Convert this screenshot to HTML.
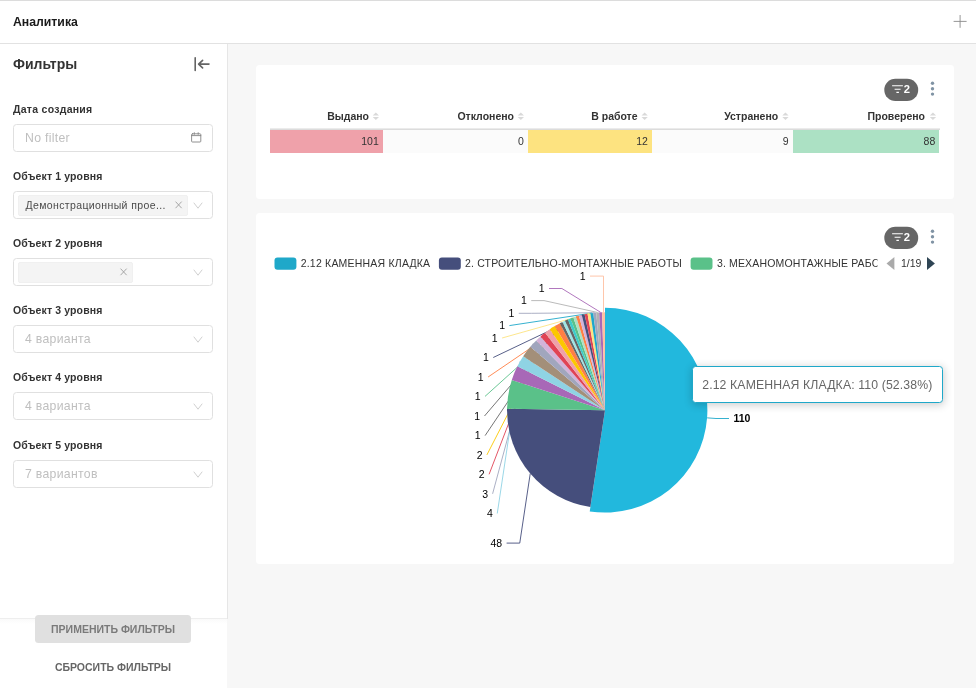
<!DOCTYPE html>
<html>
<head>
<meta charset="utf-8">
<title>Аналитика</title>
<style>
*{box-sizing:border-box;margin:0;padding:0}
html,body{width:976px;height:688px;overflow:hidden;background:#f7f7f7}
body{font-family:"Liberation Sans",sans-serif;color:#333;position:relative;font-size:12.25px}
.abs{position:absolute}
#topline{left:0;top:0;width:976px;height:1px;background:#dcdcdc}
#header{left:0;top:1px;width:976px;height:43px;background:#fff;border-bottom:1px solid #e2e2e2}
#title{left:13px;top:14px;font-weight:bold;font-size:12.25px;line-height:16px;color:#1a1a1a;white-space:nowrap}
#sidebar{left:0;top:44px;width:227.8px;height:574.6px;background:#fff;border-right:1px solid #e6e6e6}
#sfoot{left:0;top:618px;width:226.6px;height:70px;background:linear-gradient(#fafafa,#fff 5px);border-top:1px solid #eeeeee}
#ftitle{left:13px;top:53.5px;font-weight:bold;font-size:14px;line-height:20px;color:#333;white-space:nowrap}
.flabel{left:13px;font-weight:bold;font-size:10.5px;line-height:14px;color:#333;white-space:nowrap;letter-spacing:0.13px}
.finput{left:13px;width:200px;height:28px;border:1px solid #e0e0e0;border-radius:3.5px;background:#fff}
.ph{left:11px;top:0;line-height:26px;font-size:12.25px;color:#bfbfbf;white-space:nowrap;letter-spacing:0.3px}
.tag{left:3.5px;top:2.5px;height:21px;background:#f4f4f4;border:1px solid #f0f0f0;border-radius:2px}
.tagtxt{left:7px;top:0;line-height:18.2px;font-size:10.5px;color:#4a4a4a;white-space:nowrap;letter-spacing:0.38px}
.card{background:#fff;border-radius:3.5px}
.th{font-weight:bold;font-size:10.5px;line-height:14px;color:#333;white-space:nowrap;text-align:right}
.td{font-size:10.5px;line-height:23.5px;height:23.7px;color:#333;text-align:right;padding-right:4.2px;top:129.8px}
.btn{font-weight:bold;font-size:10.5px;white-space:nowrap;text-align:center}
svg{position:absolute;left:0;top:0;overflow:visible}
</style>
</head>
<body>
<div class="abs" id="header"></div>
<div class="abs" id="topline"></div>
<div class="abs" id="title">Аналитика</div>
<div class="abs" id="sidebar"></div>
<div class="abs" id="ftitle">Фильтры</div>

<!-- filter groups -->
<div class="abs flabel" style="top:102px;letter-spacing:0.27px">Дата создания</div>
<div class="abs finput" style="top:124px"><div class="abs ph">No filter</div></div>

<div class="abs flabel" style="top:169px">Объект 1 уровня</div>
<div class="abs finput" style="top:191px"><div class="abs tag" style="width:170px"><div class="abs tagtxt">Демонстрационный прое...</div></div></div>

<div class="abs flabel" style="top:236px">Объект 2 уровня</div>
<div class="abs finput" style="top:258px"><div class="abs tag" style="width:115px"></div></div>

<div class="abs flabel" style="top:303px">Объект 3 уровня</div>
<div class="abs finput" style="top:325px"><div class="abs ph">4 варианта</div></div>

<div class="abs flabel" style="top:370px">Объект 4 уровня</div>
<div class="abs finput" style="top:392px"><div class="abs ph">4 варианта</div></div>

<div class="abs flabel" style="top:438px">Объект 5 уровня</div>
<div class="abs finput" style="top:460px"><div class="abs ph">7 вариантов</div></div>

<!-- sidebar footer -->
<div class="abs" id="sfoot"></div>
<div class="abs btn" style="left:35px;top:615px;width:156px;height:28px;line-height:28px;background:#e0e0e0;border-radius:3.5px;color:#7a7a7a">ПРИМЕНИТЬ ФИЛЬТРЫ</div>
<div class="abs btn" style="left:35px;top:653px;width:156px;height:28px;line-height:28px;color:#666">СБРОСИТЬ ФИЛЬТРЫ</div>

<!-- card 1 : table -->
<div class="abs card" style="left:256px;top:65px;width:698px;height:133.6px"></div>
<div class="abs" style="left:270px;top:128px;width:669.5px;height:1px;background:#ebebeb"></div><div class="abs" style="left:270px;top:129px;width:669.5px;height:1px;background:#dcdcdc"></div>
<div class="abs td" style="left:270px;width:113px;background:#efa1aa">101</div>
<div class="abs td" style="left:383px;width:145.1px;background:#fbfbfb">0</div>
<div class="abs td" style="left:528.1px;width:124px;background:#fde380">12</div>
<div class="abs td" style="left:652.1px;width:140.6px;background:#fbfbfb">9</div>
<div class="abs td" style="left:792.7px;width:146.8px;background:#ace1c4">88</div>
<div class="abs th" style="left:270px;width:99px;top:109px">Выдано</div>
<div class="abs th" style="left:383px;width:131px;top:109px">Отклонено</div>
<div class="abs th" style="left:528px;width:109.6px;top:109px">В работе</div>
<div class="abs th" style="left:651px;width:127.2px;top:109px">Устранено</div>
<div class="abs th" style="left:793px;width:132px;top:109px">Проверено</div>

<!-- card 2 : pie -->
<div class="abs card" style="left:256px;top:212.7px;width:698px;height:351.7px"></div>

<svg id="gfx" width="976" height="688" viewBox="0 0 976 688">
<g fill="none" stroke-width="0.9" stroke-linejoin="round">
<polyline stroke="#FEC0A1" points="590.00,276.10 603.50,276.10 603.53,312.21"/>
<polyline stroke="#A868B7" points="549.00,288.50 561.90,288.50 600.60,312.30"/>
<polyline stroke="#B2B2B2" points="531.25,300.60 544.00,300.60 597.68,312.47"/>
<polyline stroke="#A1A6BD" points="518.75,313.30 531.25,313.30 594.76,312.74"/>
<polyline stroke="#1FA8C9" points="509.40,325.60 591.85,313.09"/>
<polyline stroke="#FDE380" points="502.10,338.00 588.95,313.52"/>
<polyline stroke="#454E7C" points="493.25,357.50 583.19,314.66"/>
<polyline stroke="#FF7F44" points="488.10,377.00 577.52,316.13"/>
<polyline stroke="#5AC189" points="485.00,396.40 571.94,317.94"/>
<polyline stroke="#666666" points="484.50,416.00 566.48,320.09"/>
<polyline stroke="#666666" points="485.10,435.60 561.16,322.55"/>
<polyline stroke="#FCC700" points="486.90,454.90 552.24,327.61"/>
<polyline stroke="#E04355" points="489.10,474.30 542.76,334.50"/>
<polyline stroke="#A1A6BD" points="492.60,493.80 533.16,343.54"/>
<polyline stroke="#8FD3E4" points="497.25,513.50 520.13,361.20"/>
<polyline stroke="#454E7C" points="506.60,543.10 519.75,543.10 530.24,473.57"/>
</g>
<g stroke="none">
<path fill="#22B8DD" d="M605.00,410.20L605.00,307.80A102.40,102.40 0 1 1 589.74,511.46Z"/>
<path fill="#454E7C" d="M605.00,410.20L590.39,507.11A98.00,98.00 0 0 1 507.01,408.73Z"/>
<path fill="#5AC189" d="M605.00,410.20L507.01,408.73A98.00,98.00 0 0 1 511.80,379.92Z"/>
<path fill="#A868B7" d="M605.00,410.20L511.80,379.92A98.00,98.00 0 0 1 517.35,366.36Z"/>
<path fill="#8FD3E4" d="M605.00,410.20L517.35,366.36A98.00,98.00 0 0 1 523.21,356.21Z"/>
<path fill="#A38F79" d="M605.00,410.20L523.21,356.21A98.00,98.00 0 0 1 530.24,346.83Z"/>
<path fill="#A1A6BD" d="M605.00,410.20L530.24,346.83A98.00,98.00 0 0 1 536.22,340.39Z"/>
<path fill="#D3B3DA" d="M605.00,410.20L536.22,340.39A98.00,98.00 0 0 1 540.52,336.40Z"/>
<path fill="#E04355" d="M605.00,410.20L540.52,336.40A98.00,98.00 0 0 1 545.05,332.68Z"/>
<path fill="#EFA1AA" d="M605.00,410.20L545.05,332.68A98.00,98.00 0 0 1 549.79,329.23Z"/>
<path fill="#FCC700" d="M605.00,410.20L549.79,329.23A98.00,98.00 0 0 1 554.74,326.07Z"/>
<path fill="#FF7F44" d="M605.00,410.20L554.74,326.07A98.00,98.00 0 0 1 559.86,323.22Z"/>
<path fill="#666666" d="M605.00,410.20L559.86,323.22A98.00,98.00 0 0 1 562.48,321.91Z"/>
<path fill="#9EE5E5" d="M605.00,410.20L562.48,321.91A98.00,98.00 0 0 1 565.14,320.67Z"/>
<path fill="#666666" d="M605.00,410.20L565.14,320.67A98.00,98.00 0 0 1 567.84,319.52Z"/>
<path fill="#3CCCCB" d="M605.00,410.20L567.84,319.52A98.00,98.00 0 0 1 570.57,318.45Z"/>
<path fill="#5AC189" d="M605.00,410.20L570.57,318.45A98.00,98.00 0 0 1 573.33,317.46Z"/>
<path fill="#ACE1C4" d="M605.00,410.20L573.33,317.46A98.00,98.00 0 0 1 576.11,316.55Z"/>
<path fill="#FF7F44" d="M605.00,410.20L576.11,316.55A98.00,98.00 0 0 1 578.93,315.73Z"/>
<path fill="#D3B3DA" d="M605.00,410.20L578.93,315.73A98.00,98.00 0 0 1 581.77,314.99Z"/>
<path fill="#454E7C" d="M605.00,410.20L581.77,314.99A98.00,98.00 0 0 1 584.62,314.34Z"/>
<path fill="#E04355" d="M605.00,410.20L584.62,314.34A98.00,98.00 0 0 1 587.50,313.77Z"/>
<path fill="#FDE380" d="M605.00,410.20L587.50,313.77A98.00,98.00 0 0 1 590.39,313.29Z"/>
<path fill="#1FA8C9" d="M605.00,410.20L590.39,313.29A98.00,98.00 0 0 1 593.30,312.90Z"/>
<path fill="#A1A6BD" d="M605.00,410.20L593.30,312.90A98.00,98.00 0 0 1 596.22,312.59Z"/>
<path fill="#B2B2B2" d="M605.00,410.20L596.22,312.59A98.00,98.00 0 0 1 599.14,312.38Z"/>
<path fill="#A868B7" d="M605.00,410.20L599.14,312.38A98.00,98.00 0 0 1 602.07,312.24Z"/>
<path fill="#FEC0A1" d="M605.00,410.20L602.07,312.24A98.00,98.00 0 0 1 605.00,312.20Z"/>
</g>
<polyline fill="none" stroke="#1FA8C9" stroke-width="0.9" points="707.11,417.85 716,418.5 729,418.5"/>
<g font-family="'Liberation Sans',sans-serif" font-size="10.5" fill="#000">
<text x="585.60" y="279.80" text-anchor="end">1</text>
<text x="544.60" y="292.20" text-anchor="end">1</text>
<text x="526.85" y="304.30" text-anchor="end">1</text>
<text x="514.35" y="317.00" text-anchor="end">1</text>
<text x="505.00" y="329.30" text-anchor="end">1</text>
<text x="497.70" y="341.70" text-anchor="end">1</text>
<text x="488.85" y="361.20" text-anchor="end">1</text>
<text x="483.70" y="380.70" text-anchor="end">1</text>
<text x="480.60" y="400.10" text-anchor="end">1</text>
<text x="480.10" y="419.70" text-anchor="end">1</text>
<text x="480.70" y="439.30" text-anchor="end">1</text>
<text x="482.50" y="458.60" text-anchor="end">2</text>
<text x="484.70" y="478.00" text-anchor="end">2</text>
<text x="488.20" y="497.50" text-anchor="end">3</text>
<text x="492.85" y="517.20" text-anchor="end">4</text>
<text x="502.20" y="546.80" text-anchor="end">48</text>
<text x="733.4" y="422.2" font-weight="bold">110</text>
</g>
<!-- legend -->
<defs><clipPath id="lgclip"><rect x="270" y="250" width="607.5" height="26"/></clipPath></defs>
<g clip-path="url(#lgclip)" font-family="'Liberation Sans',sans-serif" font-size="10.5" fill="#333">
<rect x="274.5" y="257.4" width="21.9" height="12.25" rx="3" fill="#1FA8C9"/>
<text x="300.7" y="267.3" textLength="129.4" lengthAdjust="spacing">2.12 КАМЕННАЯ КЛАДКА</text>
<rect x="438.9" y="257.4" width="21.9" height="12.25" rx="3" fill="#454E7C"/>
<text x="465.1" y="267.3" textLength="216.7" lengthAdjust="spacing">2. СТРОИТЕЛЬНО-МОНТАЖНЫЕ РАБОТЫ</text>
<rect x="690.6" y="257.4" width="21.9" height="12.25" rx="3" fill="#5AC189"/>
<text x="716.9" y="267.3" textLength="179" lengthAdjust="spacing">3. МЕХАНОМОНТАЖНЫЕ РАБОТЫ</text>
</g>
<path d="M886.5,263.5L894.4,256.9L894.4,270.1Z" fill="#aaa"/>
<text x="901" y="267.3" font-family="'Liberation Sans',sans-serif" font-size="10.5" fill="#333">1/19</text>
<path d="M934.9,263.5L927,256.9L927,270.1Z" fill="#2f4554"/>
<!-- badges -->
<g id="badge1">
<rect x="884.3" y="78.8" width="33.9" height="22.2" rx="11.1" fill="#666"/>
<path d="M892.1,85.7h10.8M894.6,89.2h6M896.4,92.4h2.5" stroke="#fff" stroke-width="1.1" fill="none"/>
<text x="903.7" y="93.1" font-family="'Liberation Sans',sans-serif" font-size="11.2" font-weight="bold" fill="#fff">2</text>
<circle cx="932.5" cy="83.2" r="1.7" fill="#8093a4"/><circle cx="932.5" cy="88.7" r="1.7" fill="#8093a4"/><circle cx="932.5" cy="94.1" r="1.7" fill="#8093a4"/>
</g>
<use href="#badge1" y="148"/>
<!-- icons -->
<g id="icons" fill="none" stroke-linecap="round" stroke-linejoin="round">
<path d="M195.2,57.8v12.7M209,64.1H198.6M202.6,60.3L198.6,64.1L202.6,67.9" stroke="#646464" stroke-width="1.6"/>
<path d="M953.6,21.4h13M960.1,15v12.8" stroke="#8a8a8a" stroke-width="0.9" stroke-linecap="butt"/>
<g stroke="#858585" stroke-width="0.9"><rect x="191.6" y="133.8" width="9.2" height="8.2" rx="0.8"/><path d="M191.6,135.6h9.2M194.3,132.7v1.6M198.2,132.7v1.6"/></g>
<g id="xic"><path d="M175.8,201.9l5.6,6M181.4,201.9l-5.6,6" stroke="#9a9a9a" stroke-width="0.85"/></g>
<use href="#xic" x="-55" y="67"/>
<g id="chev"><path d="M194,203l4,5.2l4,-5.2" stroke="#c8c8c8" stroke-width="0.85"/></g>
<use href="#chev" y="67"/><use href="#chev" y="134"/><use href="#chev" y="201"/><use href="#chev" y="269"/>
</g>
<g id="sorts" fill="#d9d9d9">
<g id="srt"><path d="M372.7,115.6l3.15,-3.1l3.15,3.1zM372.7,117l3.15,3.1l3.15,-3.1z"/></g>
<use href="#srt" x="145"/><use href="#srt" x="268.8"/><use href="#srt" x="409.6"/><use href="#srt" x="557.1"/>
</g>

</svg>
<div class="abs" id="tip" style="left:692.4px;top:366.4px;width:250.4px;height:36.5px;background:#fff;border:0.9px solid #1FA8C9;border-radius:3.5px;box-shadow:rgba(0,0,0,.2) 0.9px 1.75px 8.75px;"></div>
<div class="abs" id="tiptxt" style="left:702.2px;top:375.9px;line-height:18.4px;font-size:12.25px;color:#666;white-space:nowrap;letter-spacing:0.13px">2.12 КАМЕННАЯ КЛАДКА: 110 (52.38%)</div>
</body>
</html>
